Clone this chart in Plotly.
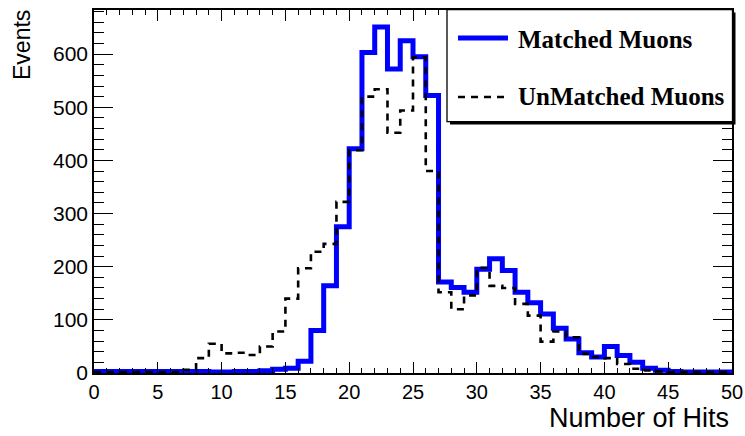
import plotly.graph_objects as go

# ---------------- data ----------------
bin_edges = list(range(0, 51))
matched = [3, 3, 3, 3, 3, 3, 3, 3, 3, 2,
           2, 3, 3, 4, 7, 9, 22, 80, 164, 275,
           422, 603, 651, 572, 625, 595, 522, 171, 161, 152,
           195, 215, 193, 152, 132, 111, 84, 64, 38, 30,
           50, 33, 20, 9, 5, 3, 2, 2, 2, 2]
unmatched = [2, 2, 2, 2, 2, 2, 2, 6, 28, 55,
             37, 38, 34, 50, 78, 140, 197, 228, 243, 322,
             419, 520, 534, 452, 494, 594, 380, 152, 120, 146,
             198, 164, 160, 130, 108, 59, 78, 67, 36, 30,
             28, 17, 8, 5, 3, 2, 2, 2, 2, 2]
legend_labels = ["Matched Muons", "UnMatched Muons"]
x_title = "Number of Hits"
y_title = "Events"

# ---------------- layout geometry (pixels) ----------------
W, H = 745, 436
L, R, T, B = 94, 13, 10, 63
pw, ph = W - L - R, H - T - B


def px(p):
    return (p - L) / pw


def py(p):
    return (H - B - p) / ph


def step(vals):
    return bin_edges, list(vals) + [vals[-1]]


fig = go.Figure()
xm, ym = step(matched)
fig.add_trace(go.Scatter(x=xm, y=ym, mode="lines", line_shape="hv",
                         line=dict(color="#0000ff", width=5),
                         cliponaxis=False, showlegend=False, name=legend_labels[0]))
xu, yu = step(unmatched)
fig.add_trace(go.Scatter(x=xu, y=yu, mode="lines", line_shape="hv",
                         line=dict(color="black", width=2.6, dash="7px,6px"),
                         cliponaxis=False, showlegend=False, name=legend_labels[1]))

xtickfont = dict(family="Liberation Sans, Arial, sans-serif", size=20, color="black")
ytickfont = dict(family="Liberation Sans, Arial, sans-serif", size=21, color="black")

fig.update_xaxes(range=[0, 50], showline=True, linecolor="black", linewidth=1.5,
                 mirror="ticks", ticks="inside", ticklen=11, tickwidth=1, tickcolor="black",
                 tick0=0, dtick=5, showgrid=False, zeroline=False, tickfont=xtickfont,
                 automargin=False, ticklabelstandoff=0,
                 minor=dict(ticks="inside", ticklen=5, tickwidth=1, tickcolor="black",
                            dtick=1, showgrid=False))
fig.update_yaxes(range=[0, 683], showline=True, linecolor="black", linewidth=1.5,
                 mirror="ticks", ticks="inside", ticklen=19, tickwidth=1, tickcolor="black",
                 tick0=0, dtick=100, showgrid=False, zeroline=False, tickfont=ytickfont,
                 automargin=False,
                 minor=dict(ticks="inside", ticklen=10, tickwidth=1, tickcolor="black",
                            dtick=20, showgrid=False))

shapes = []
# legend shadow and box
shapes.append(dict(type="rect", xref="paper", yref="paper",
                   x0=px(450), x1=px(735.5), y0=py(124.5), y1=py(12.5),
                   fillcolor="black", line=dict(width=0), layer="above"))
shapes.append(dict(type="rect", xref="paper", yref="paper",
                   x0=px(447), x1=px(732.5), y0=py(121.7), y1=py(9.5),
                   fillcolor="white", line=dict(color="black", width=1.3), layer="above"))
shapes.append(dict(type="line", xref="paper", yref="paper",
                   x0=px(458), x1=px(508), y0=py(38), y1=py(38),
                   line=dict(color="#0000ff", width=5), layer="above"))
shapes.append(dict(type="line", xref="paper", yref="paper",
                   x0=px(458), x1=px(508), y0=py(97), y1=py(97),
                   line=dict(color="black", width=2.6, dash="7px,6px"), layer="above"))

legfont = dict(family="Liberation Serif, Times New Roman, serif", size=25, color="black")
annotations = [
    dict(text="<b>%s</b>" % legend_labels[0], xref="paper", yref="paper",
         x=px(516), y=py(40), xanchor="left", yanchor="middle", showarrow=False, font=legfont),
    dict(text="<b>%s</b>" % legend_labels[1], xref="paper", yref="paper",
         x=px(516), y=py(97), xanchor="left", yanchor="middle", showarrow=False, font=legfont),
    dict(text=x_title, xref="paper", yref="paper", x=px(731), y=py(418),
         xanchor="right", yanchor="middle", showarrow=False,
         font=dict(family="Liberation Sans, Arial, sans-serif", size=27, color="black")),
    dict(text=y_title, xref="paper", yref="paper", x=px(22), y=py(8),
         xanchor="center", yanchor="top", textangle=-90, showarrow=False,
         font=dict(family="Liberation Sans, Arial, sans-serif", size=23, color="black")),
]

fig.update_layout(width=W, height=H, margin=dict(l=L, r=R, t=T, b=B),
                  paper_bgcolor="white", plot_bgcolor="white",
                  shapes=shapes, annotations=annotations, showlegend=False)

fig.write_html("out.html")
